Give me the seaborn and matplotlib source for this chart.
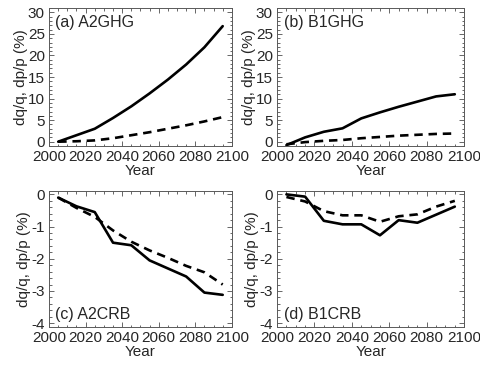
import numpy as np
import pandas as pd
import matplotlib
matplotlib.use("Agg")
import matplotlib.pyplot as plt
from matplotlib.ticker import MultipleLocator
import seaborn as sns

# Decadal means, 2005-2095
years = [2005, 2015, 2025, 2035, 2045, 2055, 2065, 2075, 2085, 2095]

# (a) A2GHG
a2ghg_q = [0.0, 1.5, 3.0, 5.5, 8.2, 11.2, 14.4, 17.9, 21.9, 26.8]
a2ghg_p = [0.0, 0.1, 0.3, 0.8, 1.5, 2.2, 3.0, 3.8, 4.7, 5.7]
# (b) B1GHG
b1ghg_q = [-0.8, 1.0, 2.3, 3.1, 5.4, 6.8, 8.1, 9.3, 10.5, 11.0]
b1ghg_p = [-0.6, -0.1, 0.2, 0.4, 0.8, 1.1, 1.4, 1.6, 1.8, 1.9]
# (c) A2CRB
a2crb_q = [-0.1, -0.37, -0.55, -1.5, -1.58, -2.05, -2.3, -2.55, -3.05, -3.12]
a2crb_p = [-0.1, -0.42, -0.7, -1.12, -1.47, -1.74, -1.97, -2.22, -2.42, -2.8]
# (d) B1CRB
b1crb_q = [0.0, -0.07, -0.82, -0.93, -0.93, -1.27, -0.8, -0.88, -0.63, -0.38]
b1crb_p = [-0.08, -0.22, -0.52, -0.65, -0.65, -0.85, -0.68, -0.62, -0.38, -0.2]

panels = [
    ("(a) A2GHG", a2ghg_q, a2ghg_p, (-1, 31), 5, 1, "top"),
    ("(b) B1GHG", b1ghg_q, b1ghg_p, (-1, 31), 5, 1, "top"),
    ("(c) A2CRB", a2crb_q, a2crb_p, (-4.12, 0.12), 1, 0.2, "bottom"),
    ("(d) B1CRB", b1crb_q, b1crb_p, (-4.12, 0.12), 1, 0.2, "bottom"),
]

sns.set_style("ticks")
plt.rcParams["font.family"] = ["Liberation Sans", "DejaVu Sans"]
plt.rcParams["font.size"] = 11
plt.rcParams["axes.unicode_minus"] = False

fig = plt.figure(figsize=(4.81, 3.65), dpi=100)
rects = [
    [0.102, 0.600, 0.380, 0.378],
    [0.576, 0.600, 0.389, 0.378],
    [0.102, 0.104, 0.380, 0.374],
    [0.576, 0.104, 0.389, 0.374],
]

for rect, (title, q, p, ylim, major, minor, pos) in zip(rects, panels):
    ax = fig.add_axes(rect)
    df = pd.DataFrame({"Year": years, "q": q, "p": p})
    sns.lineplot(data=df, x="Year", y="q", ax=ax, color="black", lw=1.9)
    sns.lineplot(data=df, x="Year", y="p", ax=ax, color="black", lw=1.9,
                 linestyle=(0, (3.2, 2.2)))
    ax.set_xlim(2000, 2100)
    ax.set_ylim(*ylim)
    ax.xaxis.set_major_locator(MultipleLocator(20))
    ax.xaxis.set_minor_locator(MultipleLocator(5))
    ax.yaxis.set_major_locator(MultipleLocator(major))
    ax.yaxis.set_minor_locator(MultipleLocator(minor))
    ax.tick_params(which="both", direction="in", top=True, right=True,
                   labelsize=11, width=0.6, color="0.3", pad=3)
    ax.tick_params(which="major", length=3.5)
    ax.tick_params(which="minor", length=1.8)
    for s in ax.spines.values():
        s.set_linewidth(0.7)
        s.set_color("0.35")
    ax.set_xlabel("Year", fontsize=11, labelpad=0)
    ax.set_ylabel("dq/q, dp/p (%)", fontsize=11, labelpad=0)
    if pos == "top":
        ax.text(0.035, 0.86, title, transform=ax.transAxes, fontsize=11.5)
    else:
        ax.text(0.035, 0.06, title, transform=ax.transAxes, fontsize=11.5)

fig.savefig("out.png", dpi=100)
